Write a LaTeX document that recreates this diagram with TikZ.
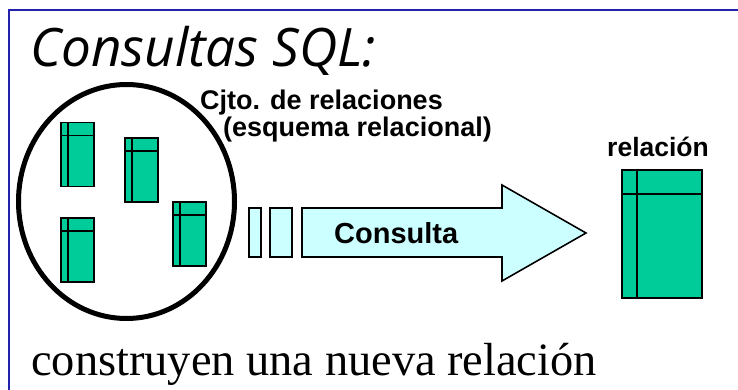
\documentclass[tikz,border=0pt]{standalone}
\usepackage{fontspec}
\setmainfont{Liberation Serif}
\newfontfamily\titlefont{Open Sans}
\newfontfamily\labelfont{Liberation Sans}
\usetikzlibrary{shapes.geometric}
\definecolor{framecol}{RGB}{34,34,170}
\definecolor{tblgreen}{RGB}{0,204,153}
\definecolor{arrowcyan}{RGB}{204,255,255}
\tikzset{
  tbl/.style={draw=black, fill=tblgreen, line width=1.6pt, inner sep=0pt, outer sep=0pt, minimum width=33pt, minimum height=64pt},
  bigtbl/.style={tbl, minimum width=80pt, minimum height=128pt},
  grid/.style={line width=1.6pt},
  lbl/.style={inner sep=0pt, anchor=base west, font=\labelfont\bfseries\fontsize{27}{30}\selectfont},
  pre/.style={draw=black, fill=arrowcyan, line width=1.6pt, inner sep=0pt, minimum height=49pt}
}
\newcommand{\tblgrid}[3]{%
  \draw[grid] ([xshift=#2]#1.north west) -- ([xshift=#2]#1.south west);
  \draw[grid] ([yshift=-#3]#1.north west) -- ([yshift=-#3]#1.north east);}
\begin{document}
\begin{tikzpicture}[x=1pt,y=-1pt]
\useasboundingbox (0,0) rectangle (738,390);
\fill[white] (0,0) rectangle (738,390);
% frame
\draw[framecol, line width=2pt] (9,392) -- (9,10) -- (740,10);
% title
\node[inner sep=0pt, anchor=base west, font=\titlefont\itshape\fontsize{53}{58}\selectfont] (title) at (30,67) {Consultas SQL:};
% set of relations
\node[ellipse, draw=black, line width=5pt, minimum width=216pt, minimum height=234pt, inner sep=0pt] (set) at (126.5,201.5) {};
\node[tbl] (t1) at (77.5,154.5) {};
\node[tbl] (t2) at (141.5,170) {};
\node[tbl] (t3) at (77.5,250) {};
\node[tbl] (t4) at (189.5,234) {};
\tblgrid{t1}{7pt}{13pt}
\tblgrid{t2}{7pt}{13pt}
\tblgrid{t3}{7pt}{13pt}
\tblgrid{t4}{7pt}{13pt}
\node[lbl] (l1) at (200,110) {Cjto. de relaciones};
\node[lbl] (l2) at (223,137) {(esquema relacional)};
% query arrow
\node[pre, minimum width=12pt] (r1) at (255,232.5) {};
\node[pre, minimum width=22pt] (r2) at (281,232.5) {};
\draw[draw=black, fill=arrowcyan, line width=1.6pt, line join=miter]
  (302,208) -- (502,208) -- (502,185) -- (586,233) -- (502,281) -- (502,257) -- (302,257) -- cycle;
\node[lbl, font=\labelfont\bfseries\fontsize{29}{32}\selectfont] (q) at (334,243) {Consulta};
% result relation
\node[lbl, font=\labelfont\bfseries\fontsize{26.5}{30}\selectfont] (rl) at (607,157) {relación};
\node[bigtbl] (res) at (662,234) {};
\tblgrid{res}{15pt}{24pt}
% bottom sentence
\node[inner sep=0pt, anchor=base west, font=\fontsize{46.4}{52}\selectfont] (bottom) at (31,375) {construyen una nueva relación};
\end{tikzpicture}
\end{document}
